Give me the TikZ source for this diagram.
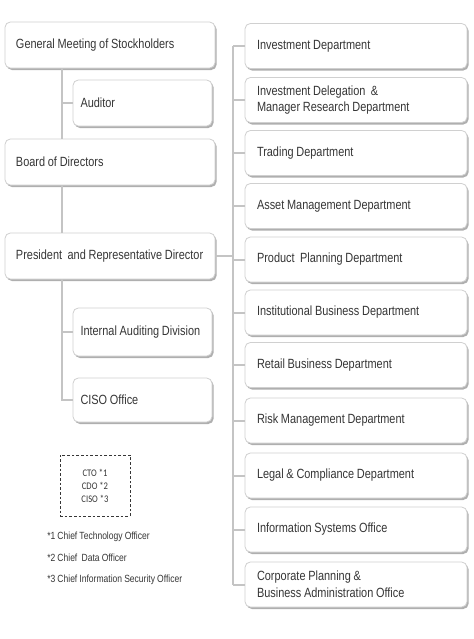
\documentclass[tikz,border=0pt]{standalone}
\usepackage{fontspec}
\setmainfont{Liberation Sans}[FakeStretch=0.82, WordSpace=0.9]
\newfontfamily\calibfont{Carlito}[FakeStretch=0.85]
\usetikzlibrary{shadows}
\hyphenpenalty=10000
\exhyphenpenalty=10000
\definecolor{txt}{HTML}{363636}
\definecolor{bord}{HTML}{D0D0D0}
\definecolor{conn}{HTML}{C4C4C4}
\definecolor{shad}{HTML}{959595}
\begin{document}
\begin{tikzpicture}[x=0.75pt,y=-0.75pt,
 base/.style={draw=bord, line width=0.6pt, fill=white, rounded corners=4pt, text=txt, align=flush left,
   font=\fontsize{10}{12.5}\selectfont,
   drop shadow={shadow xshift=1.2pt, shadow yshift=-1.5pt, fill=shad, opacity=0.75}, inner ysep=2pt},
 lbox/.style={base, minimum width=157.5pt, text width=141pt, inner xsep=8.25pt, minimum height=34.5pt},
 sbox/.style={base, minimum width=104.25pt, text width=93pt, inner xsep=5.6pt, minimum height=34.5pt},
 rbox/.style={base, minimum width=166.5pt, text width=148.5pt, inner xsep=9pt, minimum height=33.75pt},
 link/.style={draw=conn, line width=1.5pt},
 note/.style={text=txt, font=\fontsize{7.8}{9}\selectfont, anchor=west, inner sep=0pt}]
\fill[white] (0,0) rectangle (474,639);
\useasboundingbox (0,0) rectangle (474,639);
\coordinate (lt) at (62,0);
\coordinate (rt) at (233,0);
% left column
\node[lbox] (gm) at (110,45) {General Meeting of Stockholders};
\node[sbox] (aud) at (142.5,103) {Auditor};
\node[lbox] (bod) at (110,162) {Board of Directors};
\node[lbox] (pres) at (110,256) {\mbox{President\ \ and Representative Director}};
\node[sbox, minimum height=36pt] (iad) at (142.5,332) {Internal Auditing Division};
\node[sbox, minimum height=33pt] (ciso) at (142.5,400) {CISO Office};
% right column
\node[rbox] (r1) at (356,46) {Investment Department};
\node[rbox] (r2) at (356,100) {Investment Delegation\ \ \&\\Manager Research Department};
\node[rbox] (r3) at (356,153) {Trading\ Department};
\node[rbox] (r4) at (356,206) {Asset Management Department};
\node[rbox] (r5) at (356,259.5) {Product\ \ Planning Department};
\node[rbox] (r6) at (356,312.5) {Institutional Business Department};
\node[rbox] (r7) at (356,365) {Retail\ Business Department};
\node[rbox] (r8) at (356,420.5) {Risk Management Department};
\node[rbox] (r9) at (356,475.5) {Legal \& Compliance Department};
\node[rbox] (r10) at (356,529.5) {Information Systems Office};
\node[rbox] (r11) at (356,584.5) {Corporate Planning \&\\Business Administration Office};
% connectors
\draw[link] (gm.south -| lt) -- (bod.north -| lt);
\draw[link] (aud.west) -- (aud.west -| lt);
\draw[link] (bod.south -| lt) -- (pres.north -| lt);
\draw[link] (pres.south -| lt) -- (ciso.west -| lt) -- (ciso.west);
\draw[link] (iad.west) -- (iad.west -| lt);
\draw[link] (pres.east) -- (pres.east -| rt);
\draw[link] (r1.west -| rt) -- (r11.west -| rt);
\foreach \n in {r1,r2,r3,r4,r5,r6,r7,r8,r9,r10,r11}
  \draw[link] (\n.west) -- (\n.west -| rt);
% dashed box
\node[draw=txt, dash pattern=on 2pt off 1.5pt, line width=0.6pt, minimum width=52.5pt,
  minimum height=45.75pt, align=center, text=txt,
  font=\calibfont\fontsize{7.6}{9.75}\selectfont] (tech) at (95,485.5) {CTO *1\\CDO *2\\CISO *3};
% footnotes
\node[note] (n1) at (47,537) {*1 Chief Technology Officer};
\node[note] (n2) at (47,558) {*2 Chief\ \ Data Officer};
\node[note] (n3) at (47,580) {*3 Chief Information Security Officer};
\end{tikzpicture}
\end{document}
